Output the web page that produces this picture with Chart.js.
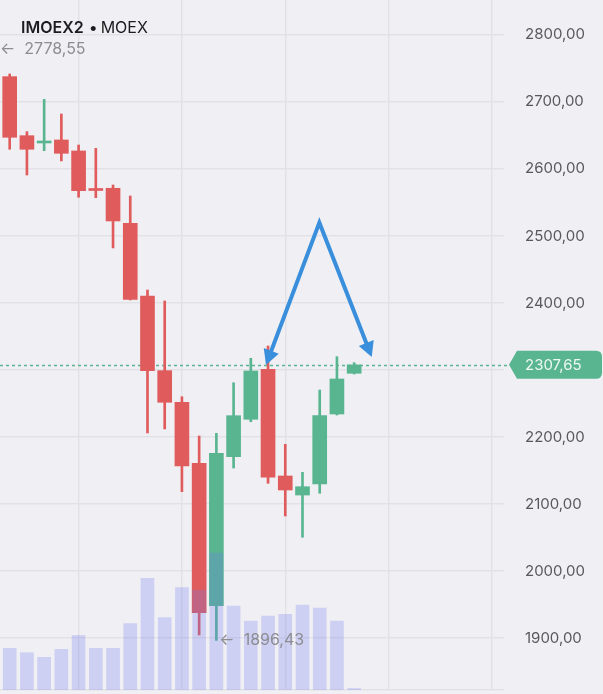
<!DOCTYPE html>
<html><head><meta charset="utf-8">
<script src="https://cdn.jsdelivr.net/npm/chart.js@4.4.1/dist/chart.umd.min.js"></script>
<style>
html,body{margin:0;padding:0;background:#f0f0f4;}
#wrap{position:relative;width:603px;height:694px;overflow:hidden;background:#f0f0f4;}
#title{position:absolute;left:21px;top:17px;font-family:Inter, "Noto Sans", sans-serif;font-size:16px;line-height:20px;color:#1c1c1e;white-space:nowrap;}
#title b{font-weight:600;}
#title .dot{margin:0 3px 0 5px;}
</style></head><body>
<div id="wrap"><canvas id="c" width="603" height="694"></canvas>
<div id="title"><b>IMOEX2</b><span class="dot">•</span>MOEX</div></div>
<script>
// ---- data (daily candles, IMOEX2) ----
const candleIndex = [-2,-1,0,1,2,3,4,5,6,7,8,9,10,11,12,13,14,15,16,17,18,19,20];
const openPrices  = [2765, 2746, 2737.8, 2649.7, 2638.8, 2643.3, 2626.9, 2569.4, 2571.2, 2519.0, 2410.4, 2299.0, 2251.8, 2160.7, 1948.2, 2170.6, 2226.4, 2301.0, 2141.8, 2113.4, 2129.9, 2234.3, 2295.1];
const highPrices  = [2778.55, 2752, 2741.8, 2655.7, 2704.0, 2682.1, 2635.8, 2630.9, 2576.1, 2559.7, 2419.4, 2403.0, 2260.1, 2201.5, 2205.5, 2281.0, 2317.5, 2335.8, 2189.1, 2147.3, 2270.1, 2319.9, 2310.9];
const lowPrices   = [2748, 2731, 2629.4, 2591.0, 2627.3, 2612.0, 2557.8, 2557.2, 2482.1, 2404.5, 2206.0, 2212.0, 2118.4, 1904.5, 1896.43, 2153.7, 2222.8, 2130.9, 2082.1, 2050.3, 2116.0, 2232.8, 2294.0];
const closePrices = [2750, 2739, 2647.3, 2629.4, 2641.8, 2623.4, 2567.6, 2567.9, 2522.4, 2405.5, 2299.0, 2251.8, 2156.7, 1937.8, 2175.7, 2231.8, 2298.5, 2139.9, 2120.9, 2125.8, 2231.8, 2286.6, 2307.65];
const volumes     = [40, 45, 41.7, 37.3, 32.7, 40.7, 54.5, 41.7, 41.7, 66.5, 111.7, 72.5, 102.3, 100, 137, 84, 69, 74, 75.7, 85, 82, 69, 1.5];
const priceTicks  = [1900, 2000, 2100, 2200, 2300, 2400, 2500, 2600, 2700, 2800];
const timeGridIdx = [4, 10, 16, 22, 28];
const lastPrice   = 2307.65;
// hand-drawn annotation arrow (candle index, price)
const arrowIdx    = [14.88, 17.98, 21.02];
const arrowPrice  = [2307.5, 2519.9, 2319.4];

const RED = '#e05b5b', GREEN = '#58b590', BLUE = '#3a8fdc', GRID = '#e1e1e7';
const fmt = v => v.toFixed(2).replace('.', ',');
const candleColors = openPrices.map((o, k) => closePrices[k] >= o ? GREEN : RED);

const overlay = {
  id: 'overlay',
  beforeDatasetsDraw(chart) {
    const {ctx, chartArea, scales: {y}} = chart;
    const py = Math.round(y.getPixelForValue(lastPrice)) + 0.5;
    ctx.save();
    ctx.strokeStyle = GREEN; ctx.lineWidth = 1.5; ctx.setLineDash([3, 3]);
    ctx.beginPath(); ctx.moveTo(chartArea.left, py); ctx.lineTo(chartArea.right + 4, py); ctx.stroke();
    ctx.restore();
  },
  afterDatasetsDraw(chart) {
    const {ctx, chartArea, scales: {x, y}} = chart;
    const pts = arrowIdx.map((v, k) => [x.getPixelForValue(v), y.getPixelForValue(arrowPrice[k])]);
    const L = 15, W = 8;
    function headInfo(from, tip) {
      const dx = tip[0] - from[0], dy = tip[1] - from[1];
      const len = Math.hypot(dx, dy); const ux = dx / len, uy = dy / len;
      return {ux, uy, end: [tip[0] - ux * L * 0.8, tip[1] - uy * L * 0.8]};
    }
    const h1 = headInfo(pts[1], pts[0]), h2 = headInfo(pts[1], pts[2]);
    ctx.save();
    ctx.strokeStyle = BLUE; ctx.fillStyle = BLUE; ctx.lineWidth = 4; ctx.lineJoin = 'miter'; ctx.lineCap = 'butt';
    ctx.beginPath(); ctx.moveTo(h1.end[0], h1.end[1]); ctx.lineTo(pts[1][0], pts[1][1]); ctx.lineTo(h2.end[0], h2.end[1]); ctx.stroke();
    [[h1, pts[0]], [h2, pts[2]]].forEach(([h, tip]) => {
      const bx = tip[0] - h.ux * L, by = tip[1] - h.uy * L;
      ctx.beginPath();
      ctx.moveTo(tip[0], tip[1]);
      ctx.lineTo(bx - h.uy * W, by + h.ux * W);
      ctx.lineTo(bx + h.uy * W, by - h.ux * W);
      ctx.closePath(); ctx.fill();
    });
    ctx.font = '16px Inter, "Noto Sans", sans-serif';
    ctx.fillStyle = '#8c8c92'; ctx.textBaseline = 'middle'; ctx.textAlign = 'left';
    let hi = 0, lo = 0;
    highPrices.forEach((v, k) => { if (v > highPrices[hi]) hi = k; });
    lowPrices.forEach((v, k) => { if (v < lowPrices[lo]) lo = k; });
    let hx = x.getPixelForValue(candleIndex[hi]) + 3; if (hx < chartArea.left) hx = chartArea.left;
    ctx.fillText('\u2190  ' + fmt(highPrices[hi]), hx, y.getPixelForValue(highPrices[hi]));
    const lx = x.getPixelForValue(candleIndex[lo]) + 3;
    ctx.fillText('\u2190  ' + fmt(lowPrices[lo]), lx, y.getPixelForValue(lowPrices[lo]));
    ctx.restore();
  },
  afterDraw(chart) {
    const {ctx, chartArea, scales: {y}} = chart;
    const py = y.getPixelForValue(lastPrice);
    const x0 = chartArea.right + 5, x1 = x0 + 8, x2 = chart.width - 1, t = py - 14, b = py + 14, r = 6;
    ctx.save();
    ctx.fillStyle = GREEN;
    ctx.beginPath();
    ctx.moveTo(x0, py);
    ctx.lineTo(x1, t);
    ctx.lineTo(x2 - r, t); ctx.quadraticCurveTo(x2, t, x2, t + r);
    ctx.lineTo(x2, b - r); ctx.quadraticCurveTo(x2, b, x2 - r, b);
    ctx.lineTo(x1, b);
    ctx.closePath(); ctx.fill();
    ctx.fillStyle = '#eef8f3';
    ctx.font = '15px Inter, "Noto Sans", sans-serif';
    ctx.textBaseline = 'middle'; ctx.textAlign = 'left';
    ctx.fillText(fmt(lastPrice), chartArea.right + 21, py + 1);
    ctx.restore();
  }
};

new Chart(document.getElementById('c'), {
  type: 'bar',
  data: {
    datasets: [
      { label: 'Объём', data: volumes.map((v, k) => ({x: candleIndex[k], y: v})), yAxisID: 'yVol',
        backgroundColor: 'rgba(112,122,236,0.27)', barThickness: 13, grouped: false, order: 0 },
      { label: 'Тело', data: openPrices.map((o, k) => ({x: candleIndex[k], y: [o, closePrices[k]]})), yAxisID: 'y',
        backgroundColor: candleColors, barThickness: 14, minBarLength: 2, grouped: false, order: 1 },
      { label: 'Тень', data: lowPrices.map((l, k) => ({x: candleIndex[k], y: [l, highPrices[k]]})), yAxisID: 'y',
        backgroundColor: candleColors, barThickness: 2, grouped: false, order: 2 }
    ]
  },
  options: {
    responsive: false, animation: false,
    layout: {padding: {left: 0, right: 0, top: 0, bottom: 4}},
    plugins: {legend: {display: false}, tooltip: {enabled: false}},
    scales: {
      x: { type: 'linear', min: -0.563, max: 28.70, offset: false,
           afterBuildTicks: s => { s.ticks = timeGridIdx.map(v => ({value: v})); },
           ticks: {display: false},
           grid: {color: GRID, lineWidth: 1.5, drawTicks: false, offset: false},
           border: {display: true, color: GRID, width: 1.5} },
      y: { type: 'linear', position: 'right', min: 1822.4, max: 2852.2,
           afterBuildTicks: s => { s.ticks = priceTicks.map(v => ({value: v})); },
           afterFit: s => { s.width = 99; s.paddingTop = 0; s.paddingBottom = 0; },
           ticks: {padding: 21, crossAlign: 'near', color: '#58585d',
                   font: {family: 'Inter, "Noto Sans", sans-serif', size: 15},
                   callback: v => fmt(v)},
           grid: {color: GRID, lineWidth: 1.5, drawTicks: false},
           border: {display: false} },
      yVol: { type: 'linear', display: false, min: 0, max: 690 }
    }
  },
  plugins: [overlay]
});
</script>
</body></html>
